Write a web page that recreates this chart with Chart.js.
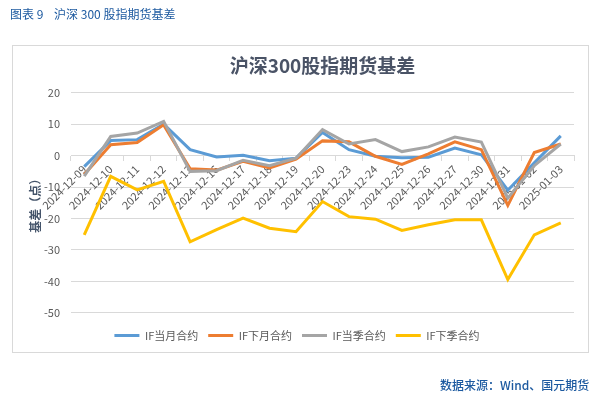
<!DOCTYPE html>
<html>
<head>
<meta charset="utf-8">
<script src="https://cdn.jsdelivr.net/npm/chart.js@4"></script>
<style>
  body { margin: 0; background: #fff; font-family: "Noto Sans CJK SC", sans-serif; }
  #wrap { position: relative; width: 603px; height: 399px; overflow: hidden; }
  #head { position: absolute; left: 10px; top: 5px; font-size: 12px; color: #1d5aa0; white-space: pre; }
  #box { position: absolute; left: 12px; top: 45px; width: 575px; height: 306px; border: 1px solid #d9d9d9; }
  #foot { position: absolute; left: 440px; top: 376px; font-size: 12px; color: #1d5aa0; font-weight: 500; }
  #chart { position: absolute; left: 0; top: 0; }
</style>
</head>
<body>
<div id="wrap">
  <div id="box"></div>
  <canvas id="chart" width="603" height="399"></canvas>
  <div id="head">图表 9    沪深 300 股指期货基差</div>
  <div id="foot">数据来源：Wind、国元期货</div>
</div>
<script>
const dates = ['2024-12-09', '2024-12-10', '2024-12-11', '2024-12-12', '2024-12-13', '2024-12-16',
    '2024-12-17', '2024-12-18', '2024-12-19', '2024-12-20', '2024-12-23', '2024-12-24',
    '2024-12-25', '2024-12-26', '2024-12-27', '2024-12-30', '2024-12-31', '2025-01-02', '2025-01-03'];
const ifCurMonth = [-3.5, 4.8, 5.1, 10, 1.9, -0.4, 0.1, -1.6, -0.8, 7.4, 1.9, -0.2, -0.7, -0.5, 2.4, 0.3, -11, -2.3, 6.3];
const ifNextMonth = [-6, 3.5, 4.2, 9.8, -4.2, -4.6, -1.8, -3.9, -1.1, 4.7, 4.4, -0.2, -2.8, 0.6, 4.4, 1.9, -15.8, 1, 3.7];
const ifCurQuarter = [-6.5, 6.1, 7.2, 10.9, -5, -4.8, -1.5, -3.2, -0.8, 8.3, 3.7, 5.1, 1.3, 2.8, 5.9, 4.3, -13.5, -3.2, 3.7];
const ifNextQuarter = [-25.2, -6.6, -10.9, -8.2, -27.4, -23.5, -19.9, -23.1, -24.2, -14.6, -19.4, -20.2, -23.8, -22, -20.4, -20.4, -39.4, -25.2, -21.4];
const yTicks = [20, 10, 0, -10, -20, -30, -40, -50];

const font = '"Noto Sans CJK SC", sans-serif';
const textColor = '#595959';
const gridColor = '#d9d9d9';

function line(label, data, color, order) {
    return {
        label: label,
        data: data,
        borderColor: color,
        backgroundColor: color,
        borderWidth: 3,
        pointRadius: 0,
        tension: 0,
        order: order
    };
}

new Chart(document.getElementById('chart'), {
    type: 'line',
    data: {
        labels: dates,
        datasets: [
            line('IF当月合约', ifCurMonth, '#5B9BD5', 3),
            line('IF下月合约', ifNextMonth, '#ED7D31', 2),
            line('IF当季合约', ifCurQuarter, '#A5A5A5', 1),
            line('IF下季合约', ifNextQuarter, '#FFC000', 0)
        ]
    },
    options: {
        responsive: false,
        animation: false,
        layout: { padding: { left: 20, right: 29, top: 45, bottom: 48 } },
        plugins: {
            tooltip: { enabled: false },
            title: {
                display: true,
                text: '沪深300股指期货基差',
                fullSize: false,
                color: '#4a5366',
                font: { family: font, size: 19, weight: 'bold' },
                padding: { top: 9, bottom: 16 }
            },
            legend: {
                position: 'bottom',
                title: { display: true, text: '', font: { size: 6 }, padding: 0 },
                labels: {
                    boxWidth: 25,
                    boxHeight: 3,
                    padding: 10,
                    color: textColor,
                    font: { family: font, size: 11 },
                    sort: (a, b) => a.datasetIndex - b.datasetIndex,
                    generateLabels: (chart) => Chart.defaults.plugins.legend.labels.generateLabels(chart)
                        .map((item) => Object.assign(item, { lineWidth: 0, fillStyle: item.strokeStyle }))
                }
            }
        },
        scales: {
            x: {
                position: { y: 0 },
                offset: true,
                grid: { offset: true, drawOnChartArea: false, drawTicks: true, tickLength: 5, color: gridColor },
                border: { color: gridColor },
                ticks: {
                    autoSkip: false,
                    minRotation: 45,
                    maxRotation: 45,
                    padding: 2,
                    color: textColor,
                    font: { family: font, size: 11 }
                }
            },
            y: {
                min: -50,
                max: 20,
                afterFit: (scale) => { scale.width = 51; },
                afterBuildTicks: (scale) => { scale.ticks = yTicks.map((v) => ({ value: v })); },
                grid: { color: gridColor, drawTicks: false },
                border: { display: false },
                ticks: { padding: 11, color: textColor, font: { family: font, size: 11 } },
                title: {
                    display: true,
                    text: '基差（点）',
                    color: '#44546a',
                    font: { family: font, size: 12, weight: 'bold' },
                    padding: { top: 8, bottom: 0 }
                }
            }
        }
    }
});
</script>
</body>
</html>
